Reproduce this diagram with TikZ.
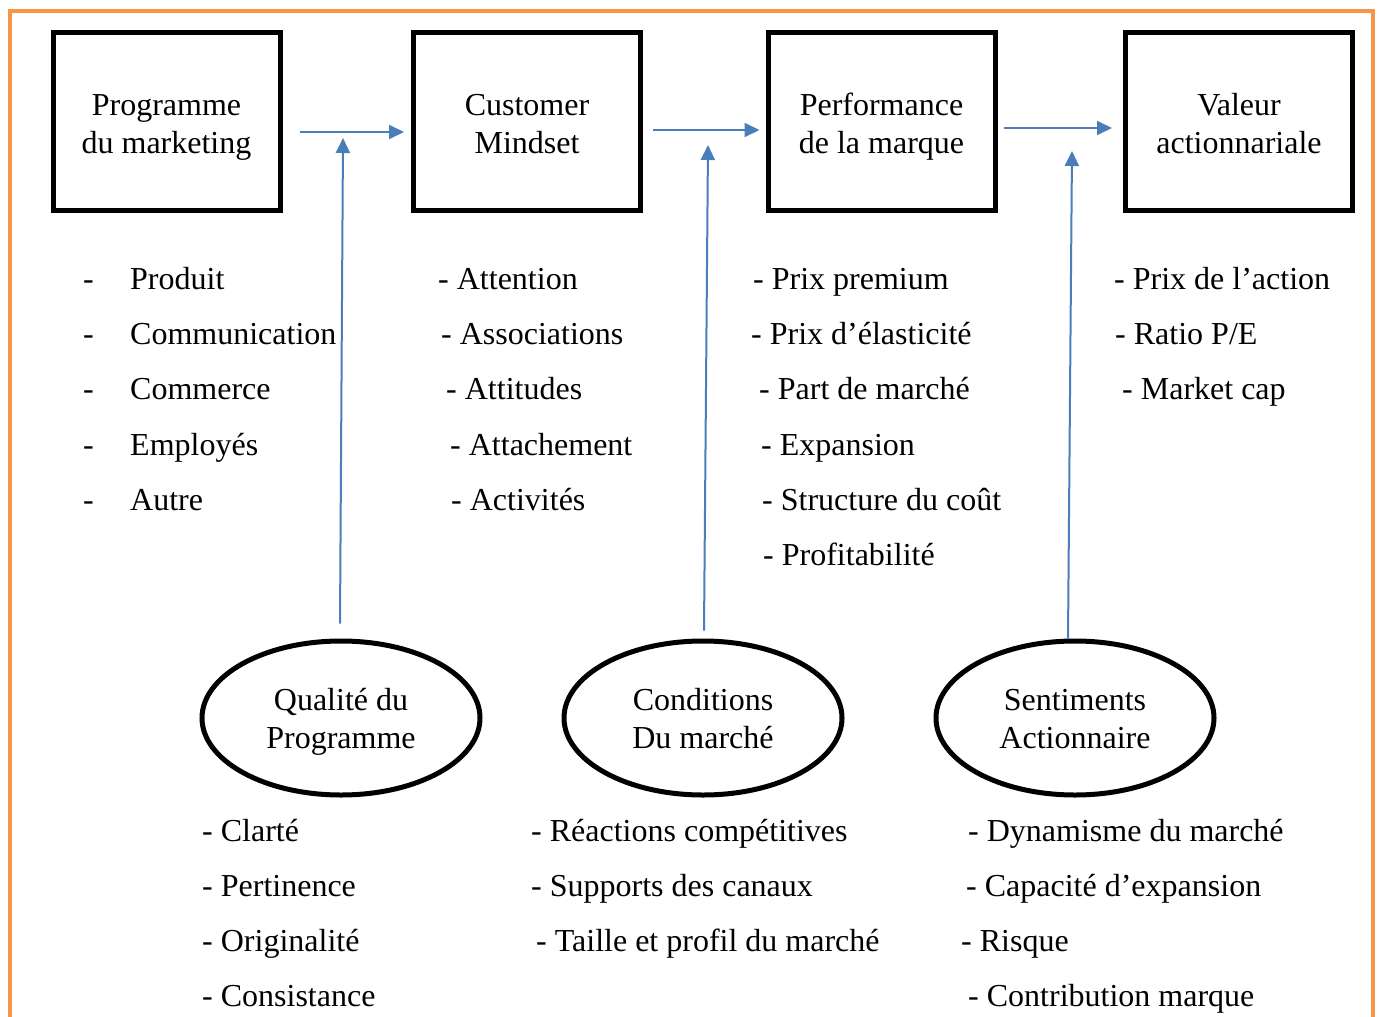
\documentclass[tikz,border=0pt]{standalone}
\usepackage{fontspec}
\setmainfont{Liberation Serif}
\usetikzlibrary{arrows.meta,shapes.geometric}
\definecolor{frameorange}{HTML}{F79646}
\definecolor{arrowblue}{HTML}{4A7EBB}
% struts that keep the two-line captions at the right height
\newcommand\boxlead{\rule{0pt}{37.4pt}}
\newcommand\ovallead{\rule{0pt}{33.4pt}}
\tikzset{
  stagebox/.style={draw=black, line width=5pt, minimum width=227pt, minimum height=178pt,
    inner sep=0pt, align=center, font=\fontsize{32}{38}\selectfont},
  factor/.style={draw=black, line width=5pt, ellipse, minimum width=278pt, minimum height=154pt,
    inner sep=0pt, align=center, font=\fontsize{32}{38}\selectfont},
  item/.style={anchor=base west, inner sep=0pt, font=\fontsize{32}{38}\selectfont},
  flow/.style={draw=arrowblue, line width=2pt, -{Triangle[length=15pt,width=14pt]}},
}
\begin{document}
\begin{tikzpicture}[x=1pt,y=-1pt]
\useasboundingbox (0,0) rectangle (1379,1017);
% outer frame (open at the bottom)
\draw[frameorange, line width=4pt] (10,1030) -- (10,11) -- (1373,11) -- (1373,1030);

% value chain stages
\node[stagebox] (b1) at (166.5,121) {\boxlead Programme\\\strut du marketing};
\node[stagebox] (b2) at (527,121) {\boxlead Customer\\\strut Mindset};
\node[stagebox] (b3) at (881.5,121) {\boxlead Performance\\\strut de la marque};
\node[stagebox] (b4) at (1239,121) {\boxlead Valeur\\\strut actionnariale};

% multipliers
\node[factor] (e1) at (341,718) {\ovallead Qualité du\\\strut Programme};
\node[factor] (e2) at (703,718) {\ovallead Conditions\\\strut Du marché};
\node[factor] (e3) at (1075,718) {\ovallead Sentiments\\\strut Actionnaire};

% horizontal flow between stages
\draw[flow] ([xshift=17pt,yshift=-11pt]b1.east) -- ([xshift=-7pt,yshift=-11pt]b2.west);
\draw[flow] ([xshift=10pt,yshift=-9pt]b2.east) -- ([xshift=-6pt,yshift=-9pt]b3.west);
\draw[flow] ([xshift=6pt,yshift=-7pt]b3.east) -- ([xshift=-11pt,yshift=-7pt]b4.west);

% multipliers acting on the flow
\coordinate (t1) at (343,138);
\coordinate (t2) at (708,145);
\coordinate (t3) at (1072,151);
\draw[flow] ([xshift=-1pt,yshift=15pt]e1.north) -- (t1);
\draw[flow] ([xshift=1pt,yshift=8pt]e2.north) -- (t2);
\draw[flow] ([xshift=-7pt,yshift=0pt]e3.north) -- (t3);

% stage 1 items
\node[item] (d11) at (83,289) {-};  \node[item] (p11) at (130,289) {Produit};
\node[item] (d12) at (83,344) {-};  \node[item] (p12) at (130,344) {Communication};
\node[item] (d13) at (83,399) {-};  \node[item] (p13) at (130,399) {Commerce};
\node[item] (d14) at (83,455) {-};  \node[item] (p14) at (130,455) {Employés};
\node[item] (d15) at (83,510) {-};  \node[item] (p15) at (130,510) {Autre};

% stage 2 items
\node[item] (m1) at (438,289) {- Attention};
\node[item] (m2) at (441,344) {- Associations};
\node[item] (m3) at (446,399) {- Attitudes};
\node[item] (m4) at (450,455) {- Attachement};
\node[item] (m5) at (451,510) {- Activités};

% stage 3 items
\node[item] (r1) at (753,289) {- Prix premium};
\node[item] (r2) at (751,344) {- Prix d’élasticité};
\node[item] (r3) at (759,399) {- Part de marché};
\node[item] (r4) at (761,455) {- Expansion};
\node[item] (r5) at (762,510) {- Structure du coût};
\node[item] (r6) at (763,565) {- Profitabilité};

% stage 4 items
\node[item] (v1) at (1114,289) {- Prix de l’action};
\node[item] (v2) at (1115,344) {- Ratio P/E};
\node[item] (v3) at (1122,399) {- Market cap};

% multiplier 1 items
\node[item] (q1) at (202,841) {- Clarté};
\node[item] (q2) at (202,896) {- Pertinence};
\node[item] (q3) at (202,951) {- Originalité};
\node[item] (q4) at (202,1006) {- Consistance};

% multiplier 2 items
\node[item] (c1) at (531,841) {- Réactions compétitives};
\node[item] (c2) at (531,896) {- Supports des canaux};
\node[item] (c3) at (536,951) {- Taille et profil du marché};

% multiplier 3 items
\node[item] (s1) at (968,841) {- Dynamisme du marché};
\node[item] (s2) at (966,896) {- Capacité d’expansion};
\node[item] (s3) at (961,951) {- Risque};
\node[item] (s4) at (968,1006) {- Contribution marque};
\end{tikzpicture}
\end{document}
